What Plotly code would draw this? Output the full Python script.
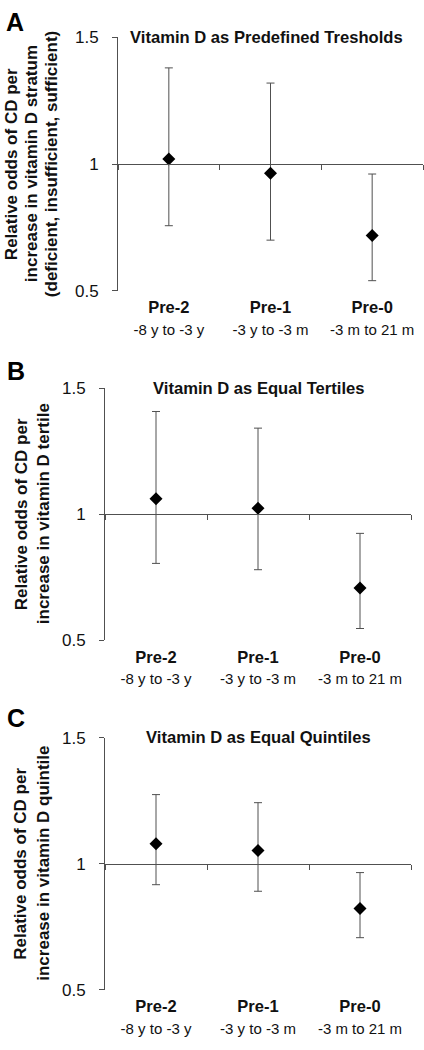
import plotly.graph_objects as go

# ---------------- data ----------------
categories = ["Pre-2", "Pre-1", "Pre-0"]
periods = ["-8 y to -3 y", "-3 y to -3 m", "-3 m to 21 m"]

a_est = [1.02, 0.964, 0.718]
a_low = [0.757, 0.700, 0.540]
a_high = [1.380, 1.320, 0.961]

b_est = [1.061, 1.024, 0.708]
b_low = [0.805, 0.780, 0.547]
b_high = [1.407, 1.341, 0.924]

c_est = [1.079, 1.052, 0.823]
c_low = [0.917, 0.891, 0.707]
c_high = [1.274, 1.242, 0.965]

y_ticks = [0.5, 1, 1.5]
y_ticktext = ["0.5", "1", "1.5"]

letters = ["A", "B", "C"]
titles = ["Vitamin D as Predefined Tresholds",
          "Vitamin D as Equal Tertiles",
          "Vitamin D as Equal Quintiles"]
ytitle_lines = [["Relative odds of CD per", "increase in vitamin D stratum",
                 "(deficient, insufficient, sufficient)"],
                ["Relative odds of CD per", "increase in vitamin D tertile"],
                ["Relative odds of CD per", "increase in vitamin D quintile"]]

# ---------------- layout geometry (pixels) ----------------
W, H = 424, 1050
xdom_px = [(118, 423), (105, 411), (105, 411)]
ydom_px = [(29, 287), (386, 643), (742, 999)]   # (top, bottom)
ytitle_x_px = [[11, 31, 51], [21, 43], [21, 44]]
title_x_px = [266.7, 258.5, 258.5]
letter_pos_px = [(15, 13), (16, 369), (16, 722)]

FONT = "Arial, Liberation Sans, sans-serif"
LINE = "#505050"
TXT = "#111111"

fig = go.Figure()
layout = dict(width=W, height=H, margin=dict(l=0, r=0, t=0, b=0),
              paper_bgcolor="white", plot_bgcolor="white",
              showlegend=False, font=dict(family=FONT, color=TXT))
annotations = []

series = [(a_est, a_low, a_high), (b_est, b_low, b_high), (c_est, c_low, c_high)]

for i, (est, low, high) in enumerate(series):
    n = i + 1
    xd = [xdom_px[i][0] / W, xdom_px[i][1] / W]
    yd = [1 - ydom_px[i][1] / H, 1 - ydom_px[i][0] / H]
    xa = f"x{n}" if n > 1 else "x"
    ya = f"y{n}" if n > 1 else "y"
    lab_n = n + 3
    xkey = f"xaxis{n}" if n > 1 else "xaxis"
    ykey = f"yaxis{n}" if n > 1 else "yaxis"

    fig.add_trace(go.Scatter(
        x=categories, y=est, mode="markers", xaxis=xa, yaxis=ya,
        marker=dict(symbol="diamond", size=10, color="black"),
        error_y=dict(type="data", symmetric=False,
                     array=[h - e for h, e in zip(high, est)],
                     arrayminus=[e - l for e, l in zip(est, low)],
                     color=LINE, thickness=1, width=4),
        cliponaxis=False, hoverinfo="skip"))
    # invisible trace so that the label axis is drawn
    fig.add_trace(go.Scatter(
        x=list(range(len(categories))), y=est, mode="markers",
        xaxis=f"x{lab_n}", yaxis=ya, marker=dict(opacity=0, size=1),
        hoverinfo="skip"))

    # axis drawn at y = 1 (middle of range) with boundary ticks
    layout[xkey] = dict(domain=xd, anchor="free", position=(yd[0] + yd[1]) / 2,
                        type="category", categoryorder="array", categoryarray=categories,
                        range=[-0.5, len(categories) - 0.5],
                        showline=True, linecolor=LINE, linewidth=1,
                        ticks="outside", tickson="boundaries", ticklen=5,
                        tickcolor=LINE, tickwidth=1,
                        showticklabels=False, showgrid=False, zeroline=False)
    # category labels below the plot
    layout[f"xaxis{lab_n}"] = dict(domain=xd, anchor=ya, overlaying=xa, side="bottom",
                                   type="linear",
                                   range=[-0.5, len(categories) - 0.5],
                                   tickmode="array", tickvals=list(range(len(categories))),
                                   ticktext=[f"<b>{c}</b><br><span style='font-size:15px'>{p}</span>"
                                             for c, p in zip(categories, periods)],
                                   tickfont=dict(size=16.5, family=FONT, color=TXT),
                                   ticks="", showline=False, showgrid=False, zeroline=False,
                                   ticklabelstandoff=5)
    layout[ykey] = dict(domain=yd, anchor=xa, range=[0.5, 1.5],
                        tickmode="array", tickvals=y_ticks, ticktext=y_ticktext,
                        showline=True, linecolor=LINE, linewidth=1,
                        ticks="outside", ticklen=5, tickcolor=LINE, tickwidth=1,
                        tickfont=dict(size=17, family=FONT, color=TXT),
                        ticklabelstandoff=10,
                        showgrid=False, zeroline=False)

    annotations.append(dict(text=f"<b>{titles[i]}</b>", xref="paper", yref=f"{ya} domain",
                            x=title_x_px[i] / W, y=1, xanchor="center", yanchor="middle",
                            showarrow=False, font=dict(size=16.6, family=FONT, color=TXT)))
    for line_text, lx_px in zip(ytitle_lines[i], ytitle_x_px[i]):
        annotations.append(dict(text=f"<b>{line_text}</b>", xref="paper", yref=f"{ya} domain",
                                x=lx_px / W, y=0.5, xanchor="center", yanchor="middle",
                                textangle=-90, showarrow=False,
                                font=dict(size=17, family=FONT, color=TXT)))
    lx, ly = letter_pos_px[i]
    annotations.append(dict(text=f"<b>{letters[i]}</b>", xref="paper", yref="paper",
                            x=lx / W, y=1 - ly / H, xanchor="center", yanchor="middle",
                            showarrow=False, font=dict(size=25, family=FONT, color="black")))

layout["annotations"] = annotations
fig.update_layout(**layout)
fig.write_html("out.html", config={"displayModeBar": False},
               post_script="document.body.style.margin='0';document.body.style.padding='0';")
